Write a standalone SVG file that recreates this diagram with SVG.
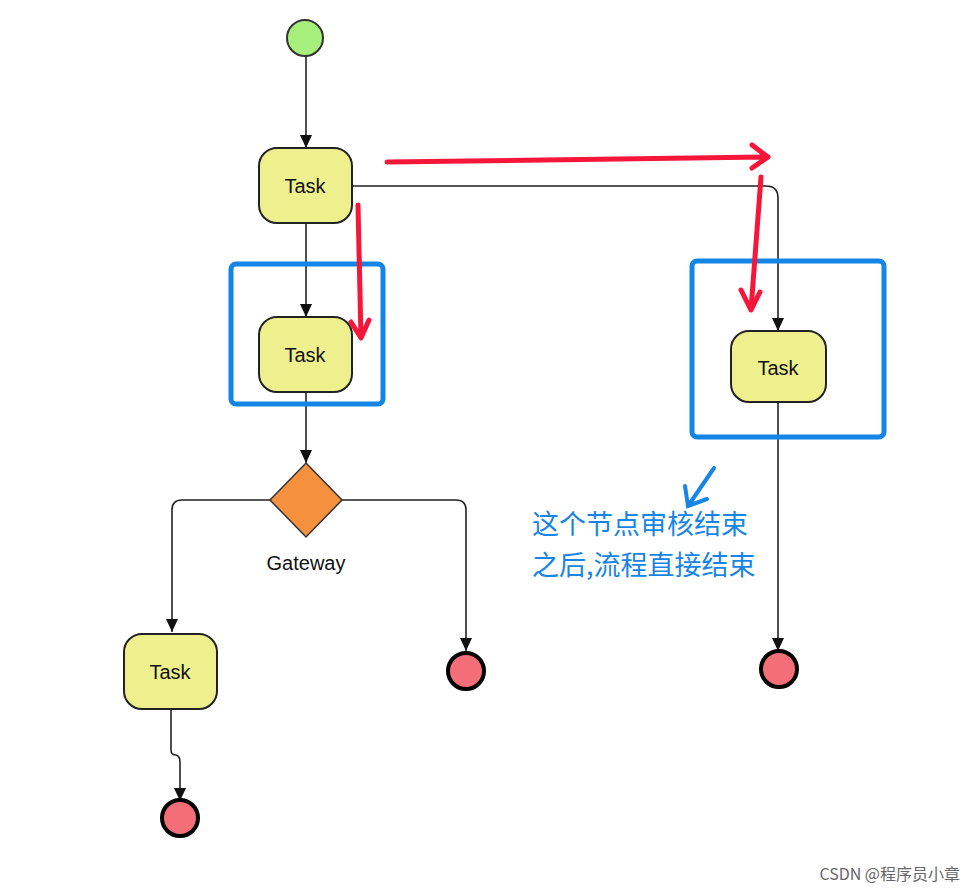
<svg xmlns="http://www.w3.org/2000/svg" width="972" height="892" viewBox="0 0 972 892">
<style>
.task{fill:#eef08e;stroke:#222;stroke-width:2}
.end{fill:#f46e78;stroke:#000;stroke-width:4}
.lbl{font-family:"Liberation Sans",Arial,sans-serif;font-size:20px;fill:#111;text-anchor:middle}
.c{fill:none;stroke:#222;stroke-width:1.6;marker-end:url(#a)}
.red{fill:none;stroke:#f5163a;stroke-width:5;stroke-linecap:round;stroke-linejoin:round}
.blue{fill:none;stroke:#1285e6;stroke-width:5}
.cn{font-family:"Noto Sans CJK SC",sans-serif;font-size:27px;fill:#1785e6}
</style>
<defs><marker id="a" markerWidth="12" markerHeight="14" refX="13" refY="6" orient="auto" markerUnits="userSpaceOnUse"><path d="M0,0 L13,6 L0,12 z" fill="#111"/></marker></defs>
<rect width="972" height="892" fill="#fff"/>
<g id="connectors">
<path class="c" d="M306,56 V148"/>
<path class="c" d="M306,223 V317"/>
<path class="c" d="M352,186 H766 Q778,186 778,198 V331"/>
<path class="c" d="M306,392 V463"/>
<path class="c" d="M270,500 H182 Q172,500 172,510 V632"/>
<path class="c" d="M342,500 H456 Q466,500 466,510 V651"/>
<path class="c" d="M778,402 V651"/>
<path class="c" d="M171,710 V750 Q171,755 176,755 Q180,756 180,762 V801"/>
</g>
<g id="start"><circle cx="305" cy="38" r="18" fill="#a6ef7d" stroke="#333" stroke-width="2"/></g>
<g id="task1"><rect class="task" x="259" y="148" width="93" height="75" rx="18"/><text class="lbl" x="305" y="193">Task</text></g>
<g id="task2"><rect class="task" x="259" y="317" width="93" height="75" rx="18"/><text class="lbl" x="305" y="362">Task</text></g>
<g id="task3"><rect class="task" x="731" y="331" width="95" height="71" rx="18"/><text class="lbl" x="778" y="375">Task</text></g>
<g id="task4"><rect class="task" x="124" y="634" width="93" height="75" rx="18"/><text class="lbl" x="170" y="679">Task</text></g>
<g id="gateway"><polygon points="306,463 342,500 306,537 270,500" fill="#f5913e" stroke="#333" stroke-width="1.5"/><text class="lbl" x="306" y="570">Gateway</text></g>
<g id="end1"><circle class="end" cx="466" cy="671" r="18"/></g>
<g id="end2"><circle class="end" cx="779" cy="669" r="18"/></g>
<g id="end3"><circle class="end" cx="180" cy="818" r="18"/></g>
<g id="annotations">
<rect class="blue" x="231" y="264" width="152" height="140" rx="5"/>
<rect class="blue" x="692" y="261" width="192" height="176" rx="5"/>
<path class="red" d="M387,162 L768,157 M752,145 L768,157 L752,168"/>
<path class="red" d="M358,205 L361,338 M351,322 L361,338 L369,320"/>
<path class="red" d="M761,177 L751,310 M741,290 L751,310 L760,292"/>
<path fill="none" stroke="#1785e6" stroke-width="4" stroke-linecap="round" d="M714,468 L688,506 M685,486 L688,506 L707,499"/>
<text class="cn" x="532" y="534">这个节点审核结束</text>
<text class="cn" x="532" y="575">之后,流程直接结束</text>
<text x="960" y="880" font-family="Noto Sans CJK SC,sans-serif" font-size="16" fill="#666" text-anchor="end">CSDN @程序员小章</text>
</g>
</svg>
